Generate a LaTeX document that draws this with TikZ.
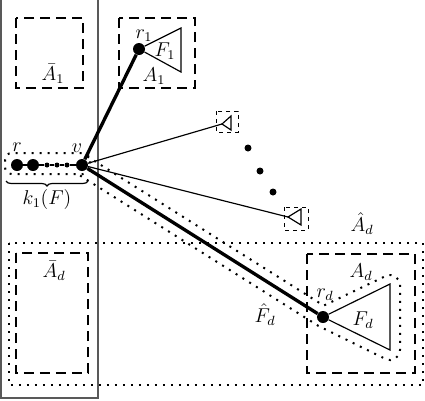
\documentclass[tikz,border=0pt]{standalone}
\usetikzlibrary{decorations.pathreplacing}
\begin{document}
\begin{tikzpicture}[x=0.6pt,y=-0.6pt,
  bignode/.style={circle,fill=black,inner sep=0pt,minimum size=7.2pt},
  smallnode/.style={circle,fill=black,inner sep=0pt,minimum size=3pt},
  ellnode/.style={circle,fill=black,inner sep=0pt,minimum size=4.2pt},
  dbox/.style={line width=1.6pt,dash pattern=on 6pt off 3.6pt},
  sbox/.style={line width=0.6pt,dash pattern=on 2.4pt off 2.4pt},
  dotline/.style={line width=1.2pt,dash pattern=on 1.2pt off 3.6pt},
  thinline/.style={line width=0.7pt},
  thickline/.style={line width=2pt},
  lbl/.style={inner sep=0pt,font=\fontsize{11.5}{13}\selectfont}]
\useasboundingbox (0,0) rectangle (425,400);
% left solid frame
\draw[black!65,line width=1pt] (1,-5) rectangle (98,398);
% dashed boxes
\draw[dbox] (16,18) rectangle (83,88);
\draw[dbox] (119,18) rectangle (195,88);
\draw[dbox] (16,253) rectangle (88,373);
\draw[dbox] (307,254) rectangle (415,373);
% big dotted box
\draw[dotline] (9,243) rectangle (423,385);
% nodes
\node[bignode] (v) at (82,165) {};
\node[bignode] (r) at (17,165) {};
\node[bignode] (r2) at (33,165) {};
\node[smallnode] (c1) at (47,165) {};
\node[smallnode] (c2) at (57,165) {};
\node[smallnode] (c3) at (67,165) {};
\node[bignode] (r1) at (139,49) {};
\node[bignode] (rd) at (323,317) {};
\node[ellnode] (e1) at (248,148) {};
\node[ellnode] (e2) at (260,171) {};
\node[ellnode] (e3) at (273,192) {};
\coordinate (t1a) at (181,28);
\coordinate (t1b) at (181,72);
\coordinate (tda) at (390,284);
\coordinate (tdb) at (390,350);
\coordinate (s1) at (222,124);
\coordinate (s1a) at (231,116);
\coordinate (s1b) at (231,130);
\coordinate (s2) at (288,217);
\coordinate (s2a) at (301,209);
\coordinate (s2b) at (301,225);
% chain
\draw[thinline] (r) -- (r2) -- (c1) -- (c2) -- (c3) -- (v);
\draw[dotline,rounded corners=4pt] (5,153) rectangle (90,174);
\draw[decorate,decoration={brace,mirror,amplitude=3pt},thinline] (6,181) -- (88,181);
% triangles
\draw[thinline] (r1) -- (t1a) -- (t1b) -- (r1);
\draw[thinline] (rd) -- (tda) -- (tdb) -- (rd);
\draw[thinline] (s1) -- (s1a) -- (s1b) -- cycle;
\draw[thinline] (s2) -- (s2a) -- (s2b) -- cycle;
\draw[sbox] (216,111) rectangle (238,132);
\draw[sbox] (284,207) rectangle (308,230);
% connectors
\draw[thickline] (v) -- (r1);
\draw[thickline] (v) -- (rd);
\draw[thinline] (v) -- (s1);
\draw[thinline] (v) -- (s2);
% hull
\draw[dotline] (87.4,156.5) -- (323.7,305.6) -- (385.7,276.0)
  .. controls (392.3,272.8) and (400,277.7) .. (400,285.05) -- (400,350.05)
  .. controls (400,357.45) and (392.2,362.3) .. (385.6,359.0) -- (318.2,325.8) -- (78,174.2);
% labels
\node[lbl] (lr1) at (144,36) {$r_1$};
\node[lbl] (lF1) at (165,51) {$F_1$};
\node[lbl] (lA1) at (154,76) {$A_1$};
\node[lbl] (lbA1) at (53,74) {$\bar{A}_1$};
\node[lbl] (lr) at (17,147) {$r$};
\node[lbl] (lv) at (77,148) {$v$};
\node[lbl] (lk) at (47,199) {$k_1(F)$};
\node[lbl] (lhAd) at (362,224) {$\hat{A}_d$};
\node[lbl] (lAd) at (361,272) {$A_d$};
\node[lbl] (lrd) at (325,295) {$r_d$};
\node[lbl] (lFd) at (363,320) {$F_d$};
\node[lbl] (lhFd) at (265,315) {$\hat{F}_d$};
\node[lbl] (lbAd) at (54,271) {$\bar{A}_d$};
\end{tikzpicture}
\end{document}
